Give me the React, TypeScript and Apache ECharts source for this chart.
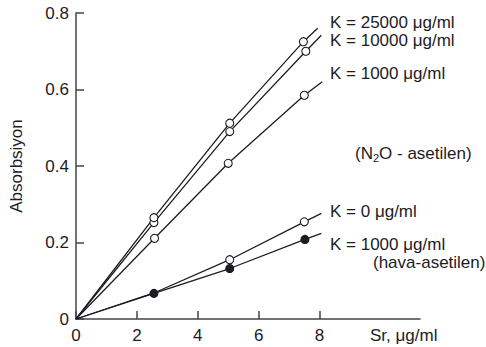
import React, { useEffect, useRef } from "react";
import * as echarts from "echarts";

const xTicks = [0, 2, 4, 6, 8];
// each series: origin, measured points, line end (end has no marker)
const k25000 = [[0, 0], [2.56, 0.265], [5.05, 0.512], [7.47, 0.725], [7.94, 0.76]];
const k10000 = [[0, 0], [2.56, 0.252], [5.05, 0.49], [7.55, 0.70], [8.06, 0.742]];
const k1000n2o = [[0, 0], [2.58, 0.211], [5.0, 0.407], [7.5, 0.585], [8.09, 0.62]];
const k0 = [[0, 0], [2.56, 0.068], [5.05, 0.155], [7.5, 0.254], [8.06, 0.276]];
const k1000air = [[0, 0], [2.56, 0.067], [5.05, 0.132], [7.52, 0.208], [8.06, 0.224]];

const FONT = "Liberation Sans, Arial, sans-serif";
const INK = "#1c1c24";

function mk(data: number[][], filled: boolean, hideIdx: number[] = []) {
  return {
    type: "line",
    data: data.map((d, i) =>
      i === 0 || i === data.length - 1 || hideIdx.includes(i)
        ? { value: d, symbol: "none" }
        : { value: d }
    ),
    symbol: "circle",
    symbolSize: 8,
    showAllSymbol: true,
    lineStyle: { color: INK, width: 1.3 },
    itemStyle: {
      color: filled ? INK : "#ffffff",
      borderColor: INK,
      borderWidth: 1.1,
    },
    emphasis: { disabled: true },
  };
}

export default function App() {
  const ref = useRef<HTMLDivElement>(null);
  useEffect(() => {
    const chart = echarts.init(ref.current!, null, { renderer: "svg" });
    const t = (text: string, x: number, y: number, extra: any = {}) => ({
      type: "text",
      x,
      y,
      style: {
        text,
        fill: INK,
        fontSize: 17,
        fontFamily: FONT,
        lineHeight: 15,
        verticalAlign: "middle",
        align: "left",
        ...extra,
      },
    });
    chart.setOption({
      animation: false,
      backgroundColor: "#ffffff",
      textStyle: { fontFamily: FONT },
      grid: { left: 70, right: 66, top: 13, bottom: 28, containLabel: false },
      xAxis: {
        type: "value",
        min: 0,
        max: 11.3,
        axisLine: { show: true, lineStyle: { color: "#444", width: 1.5 } },
        axisTick: {
          show: true,
          inside: true,
          length: 8,
          customValues: xTicks,
          lineStyle: { color: "#444", width: 1.5 },
        },
        axisLabel: {
          customValues: xTicks,
          color: INK,
          fontSize: 17,
          fontFamily: FONT,
          margin: 8,
        },
        splitLine: { show: false },
      },
      yAxis: {
        type: "value",
        min: 0,
        max: 0.8,
        interval: 0.2,
        name: "Absorbsiyon",
        nameLocation: "middle",
        nameGap: 51,
        nameTextStyle: { color: INK, fontSize: 17, fontFamily: FONT },
        axisLine: { show: true, lineStyle: { color: "#444", width: 1.5 } },
        axisTick: {
          show: true,
          inside: true,
          length: 8,
          lineStyle: { color: "#444", width: 1.5 },
        },
        axisLabel: {
          color: INK,
          fontSize: 17,
          fontFamily: FONT,
          margin: 7,
          formatter: (v: number) => (v === 0 ? "0" : v.toFixed(1)),
        },
        splitLine: { show: false },
      },
      series: [
        mk(k0, false, [1]),
        mk(k1000air, true),
        mk(k1000n2o, false),
        mk(k10000, false),
        mk(k25000, false),
      ],
      graphic: [
        t("K = 25000 \u03bcg/ml", 330, 22.5),
        t("K = 10000 \u03bcg/ml", 330, 40),
        t("K = 1000 \u03bcg/ml", 330, 73),
        {
          type: "text",
          x: 355,
          y: 153,
          style: {
            text: "{a|(N}{s|2}{a|O - asetilen)}",
            verticalAlign: "middle",
            align: "left",
            rich: {
              a: { fontSize: 17, fontFamily: FONT, fill: INK, color: INK },
              s: {
                fontSize: 11,
                fontFamily: FONT,
                fill: INK,
                color: INK,
                padding: [9, 0, 0, 0],
              },
            },
          },
        },
        t("K = 0 \u03bcg/ml", 330, 211.5),
        t("K = 1000 \u03bcg/ml", 330, 244.5),
        t("(hava-asetilen)", 373, 262),
        t("Sr, \u03bcg/ml", 370, 335),
      ],
    });
    return () => chart.dispose();
  }, []);
  return (
    <div
      ref={ref}
      style={{ width: 486, height: 347, position: "fixed", left: 0, top: 0 }}
    />
  );
}
